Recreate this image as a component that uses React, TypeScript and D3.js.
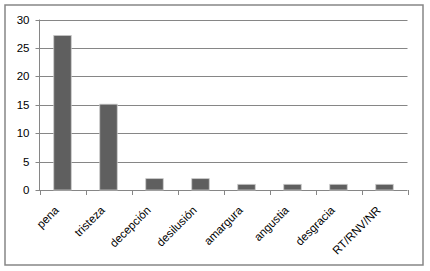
import React from "react";
import * as d3 from "d3";

const categories = ["pena", "tristeza", "decepción", "desilusión", "amargura", "angustia", "desgracia", "RT/RNV/NR"];
const values = [27.2, 15.1, 2, 2, 1, 1, 1, 1];
const yTicks = [0, 5, 10, 15, 20, 25, 30];

const W = 430;
const H = 271;
const left = 39.5;
const right = 407.5;
const top = 19.5;
const bottom = 190;

export default function App() {
  const x = d3.scaleBand<string>().domain(categories).range([left, right]).paddingInner(0.62).paddingOuter(0.31);
  const band = d3.scaleBand<string>().domain(categories).range([left, right]);
  const y = d3.scaleLinear().domain([0, 30]).range([bottom, top]);
  const grey = "#868686";

  return (
    <svg width={W} height={H} style={{ position: "absolute", left: 0, top: 0, fontFamily: "Liberation Sans, Arial, sans-serif" }}>
      <rect x={5} y={5} width={418} height={260} fill="white" stroke={grey} strokeWidth={1.5} />
      {yTicks.map(t => (
        <g key={t}>
          <line x1={left - 4} x2={right} y1={Math.round(y(t)) + 0.5} y2={Math.round(y(t)) + 0.5} stroke={grey} />
          <text x={left - 10} y={y(t)} dy="0.35em" textAnchor="end" fontSize={11.5} fill="#000">{t}</text>
        </g>
      ))}
      <line x1={left} x2={left} y1={top} y2={bottom + 0.5} stroke={grey} />
      {categories.map((c, i) => (
        <rect key={c} x={x(c)} y={y(values[i])} width={x.bandwidth()} height={bottom - y(values[i])}
          fill="#5f5f5f" stroke="#c8c8c8" strokeWidth={0.8} />
      ))}
      {categories.concat([""]).map((c, i) => {
        const px = Math.round(left + i * band.bandwidth()) + 0.5;
        return <line key={"t" + i} x1={px} x2={px} y1={bottom} y2={bottom + 5} stroke={grey} />;
      })}
      {categories.map(c => {
        const cx = (band(c) as number) + band.bandwidth() / 2 - 3;
        const cy = bottom + 21;
        return (
          <text key={"l" + c} x={cx} y={cy} textAnchor="end" fontSize={11.5} fill="#000"
            transform={`rotate(-45 ${cx} ${cy})`}>{c}</text>
        );
      })}
    </svg>
  );
}
